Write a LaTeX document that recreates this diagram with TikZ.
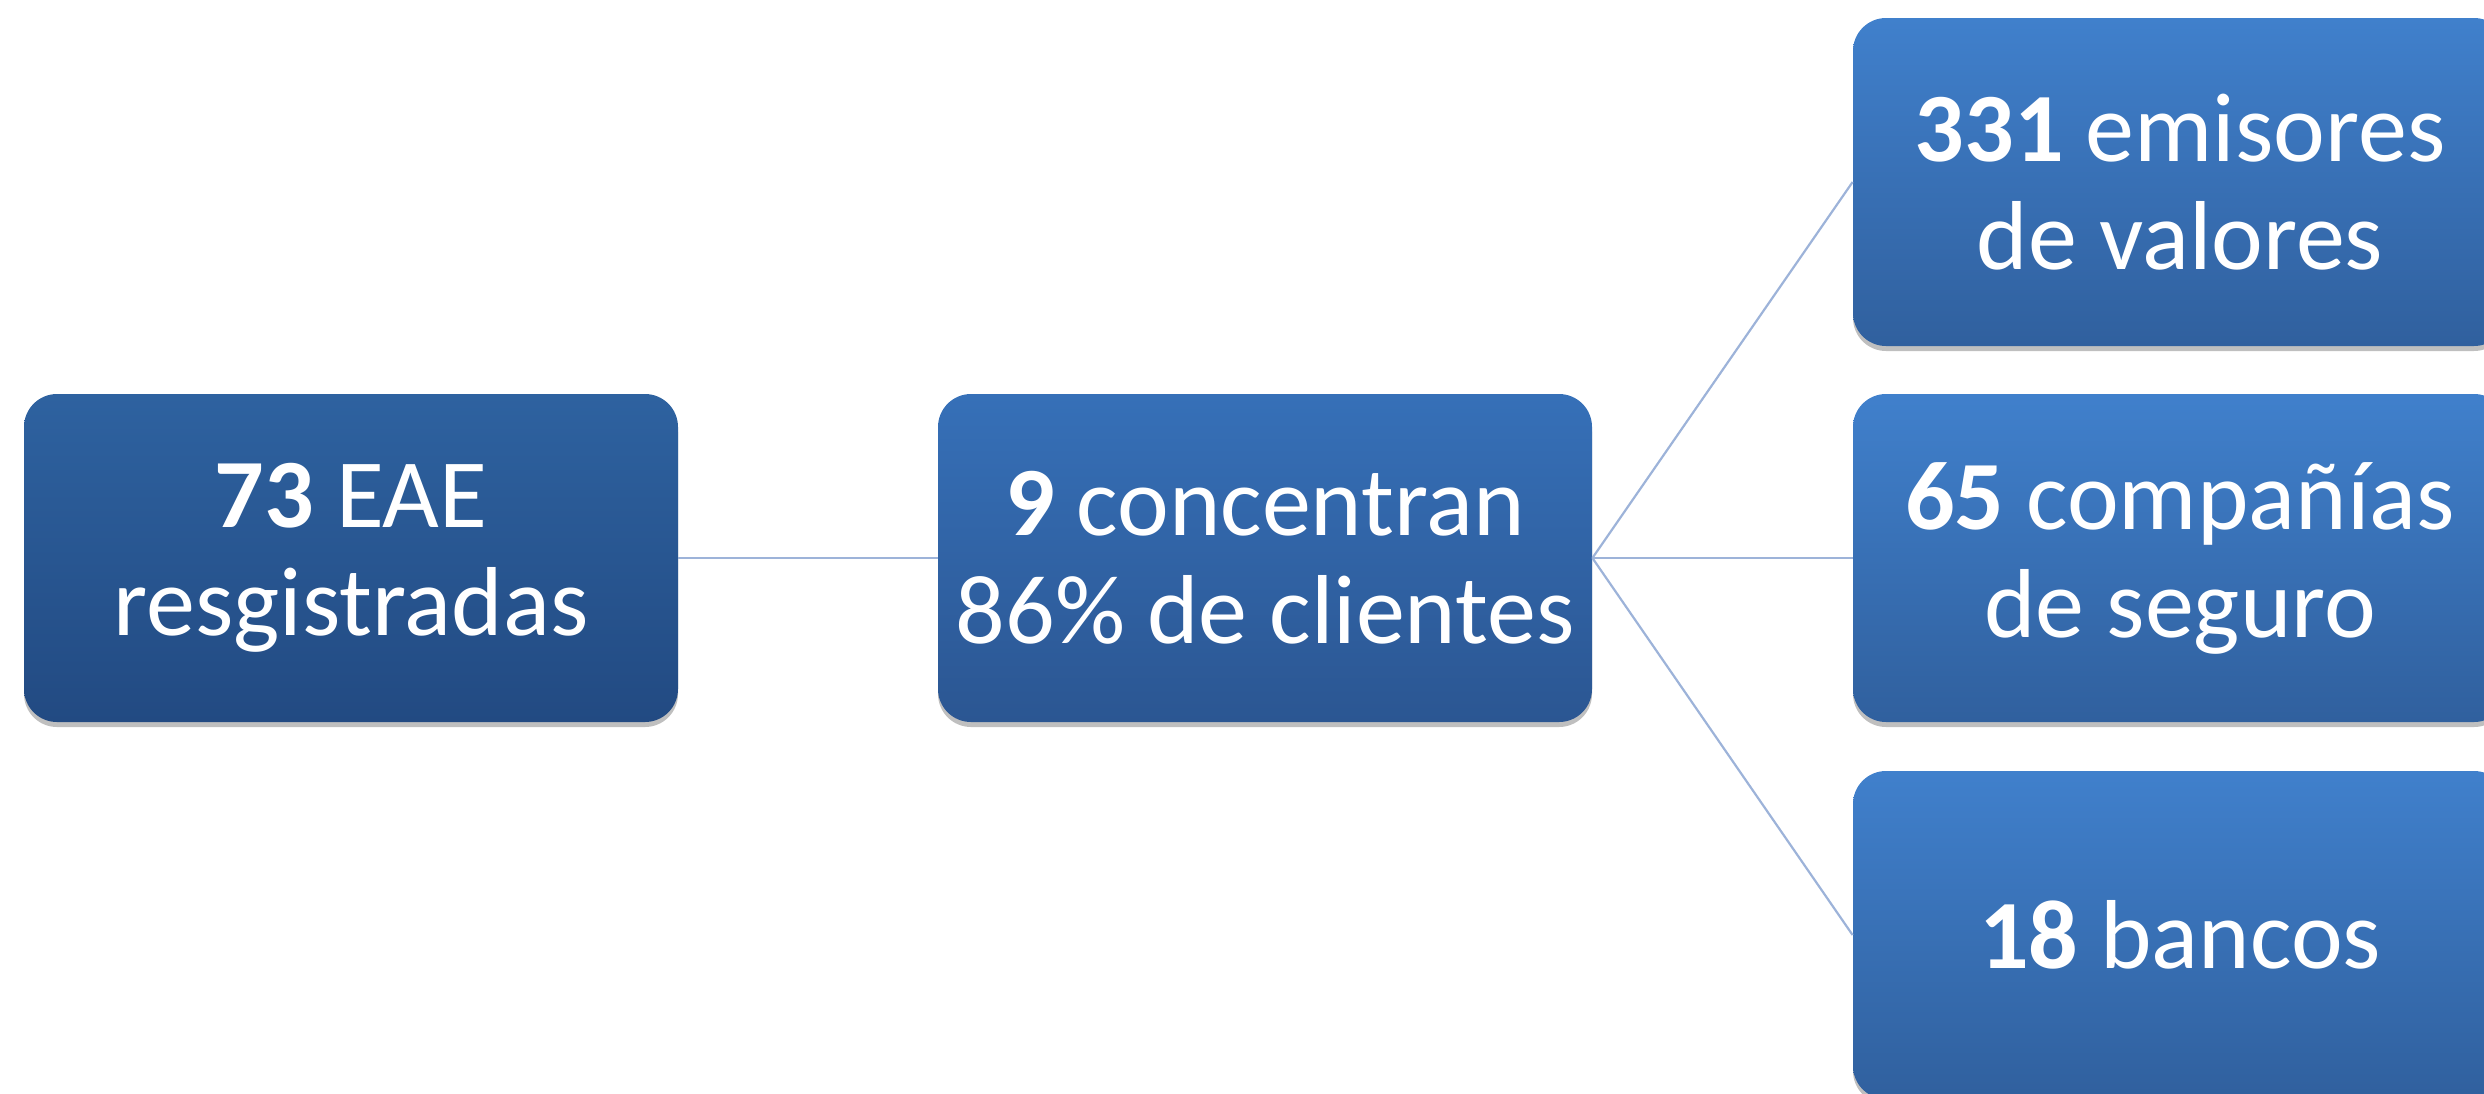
\documentclass[tikz,border=0pt]{standalone}
\usepackage{fontspec}
\setmainfont{Carlito}
\usetikzlibrary{shadows}
\definecolor{aTop}{HTML}{2E62A0}
\definecolor{aBot}{HTML}{224A82}
\definecolor{bTop}{HTML}{3670B8}
\definecolor{bBot}{HTML}{2B5692}
\definecolor{cTop}{HTML}{4080CC}
\definecolor{cBot}{HTML}{30609E}
\definecolor{lineC}{HTML}{9DB3D9}
\tikzset{
  box/.style={rectangle, rounded corners=16.5pt, minimum width=327pt, minimum height=164pt,
    inner sep=0pt, text=white, align=center, font=\fontsize{49}{54}\selectfont,
    drop shadow={shadow xshift=0pt, shadow yshift=-2.5pt, opacity=0.25, fill=black}},
  lvlA/.style={box, top color=aTop, bottom color=aBot},
  lvlB/.style={box, top color=bTop, bottom color=bBot},
  lvlC/.style={box, top color=cTop, bottom color=cBot},
  conn/.style={draw=lineC, line width=1.1pt}
}
\begin{document}
\begin{tikzpicture}[x=0.5pt, y=-0.5pt]
\clip (0,0) rectangle (2484,1093);
\node[lvlA] (A) at (351,558) {{\bfseries 73} EAE\\resgistradas};
\node[lvlB] (B) at (1265,558) {{\bfseries 9} concentran\\86\% de clientes};
\node[lvlC] (C1) at (2180,182) {{\bfseries 331} emisores\\de valores};
\node[lvlC] (C2) at (2180,558) {{\bfseries 65} compañías\\de seguro};
\node[lvlC] (C3) at (2180,935) {{\bfseries 18} bancos};
\draw[conn] (A.east) -- (B.west);
\draw[conn] (B.east) -- (C1.west);
\draw[conn] (B.east) -- (C2.west);
\draw[conn] (B.east) -- (C3.west);
\end{tikzpicture}
\end{document}
